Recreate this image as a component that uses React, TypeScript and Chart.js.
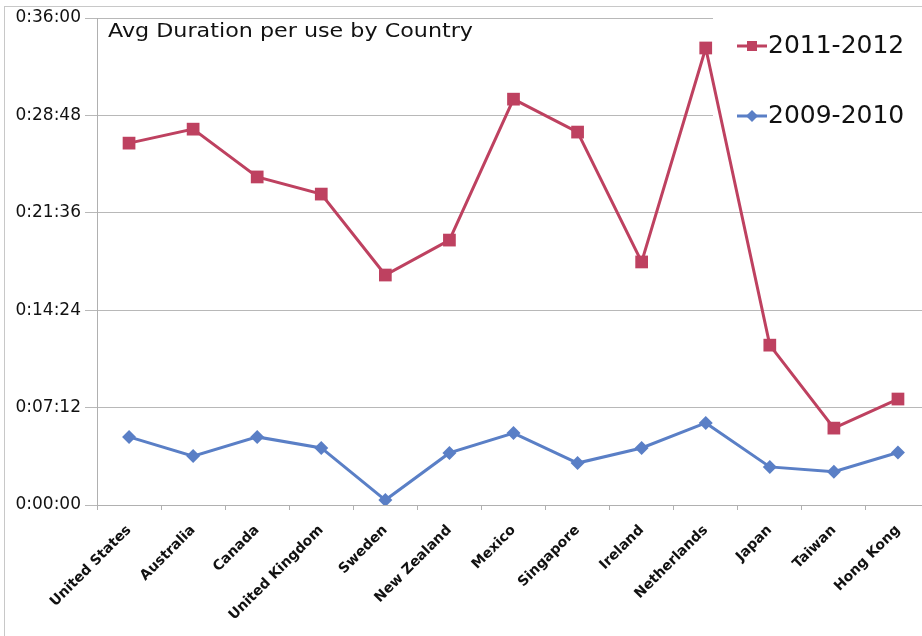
import React, { useEffect, useRef } from "react";
import { Chart, registerables } from "chart.js";

Chart.register(...registerables);

const categories = [
  "United States", "Australia", "Canada", "United Kingdom", "Sweden", "New Zealand",
  "Mexico", "Singapore", "Ireland", "Netherlands", "Japan", "Taiwan", "Hong Kong",
];
// durations in seconds
const series2011_2012 = [1605, 1667, 1455, 1379, 1020, 1175, 1800, 1654, 1078, 2027, 709, 341, 470];
const series2009_2010 = [302, 217, 302, 253, 22, 231, 319, 186, 253, 364, 169, 148, 233];
const yMin = 0;
const yMax = 2160;
const yStep = 432;
const titleText = "Avg Duration per use by Country";
const seriesNames = ["2011-2012", "2009-2010"];

const RED = "#BE4160";
const BLUE = "#5A7FC6";
const FONT = "'DejaVu Sans', Verdana, sans-serif";

function fmt(v: number): string {
  const h = Math.floor(v / 3600);
  const m = Math.floor((v % 3600) / 60);
  const s = Math.round(v % 60);
  return `${h}:${String(m).padStart(2, "0")}:${String(s).padStart(2, "0")}`;
}

const decorPlugin = {
  id: "decor",
  beforeDatasetsDraw(chart: any) {
    const ctx = chart.ctx;
    ctx.save();
    ctx.fillStyle = "#ffffff";
    ctx.fillRect(713, 10, 260, 126);
    ctx.restore();
  },
  afterDraw(chart: any) {
    const ctx = chart.ctx;
    ctx.save();
    // outer border
    ctx.strokeStyle = "#c8c8c8";
    ctx.lineWidth = 1;
    ctx.strokeRect(4.5, 6.5, 1200, 1200);
    // title (slightly widened like the original)
    ctx.fillStyle = "#111111";
    ctx.font = `20px ${FONT}`;
    ctx.textAlign = "left";
    ctx.textBaseline = "middle";
    const w = ctx.measureText(titleText).width;
    const sx = 365 / w;
    ctx.save();
    ctx.translate(108, 32);
    ctx.scale(sx, 1);
    ctx.fillText(titleText, 0, 0);
    ctx.restore();
    // legend
    const items = [
      { name: seriesNames[0], color: RED, y: 46, style: "rect" },
      { name: seriesNames[1], color: BLUE, y: 116, style: "diamond" },
    ];
    for (const it of items) {
      ctx.strokeStyle = it.color;
      ctx.lineWidth = 3;
      ctx.beginPath();
      ctx.moveTo(737, it.y);
      ctx.lineTo(767, it.y);
      ctx.stroke();
      ctx.fillStyle = it.color;
      if (it.style === "rect") {
        ctx.fillRect(747, it.y - 5, 10, 10);
      } else {
        ctx.beginPath();
        ctx.moveTo(752, it.y - 6);
        ctx.lineTo(758, it.y);
        ctx.lineTo(752, it.y + 6);
        ctx.lineTo(746, it.y);
        ctx.closePath();
        ctx.fill();
      }
      ctx.fillStyle = "#111111";
      ctx.font = `25px ${FONT}`;
      ctx.textAlign = "left";
      ctx.textBaseline = "middle";
      ctx.fillText(it.name, 768, it.y);
    }
    ctx.restore();
  },
};

export default function App() {
  const ref = useRef<HTMLCanvasElement | null>(null);
  useEffect(() => {
    if (!ref.current) return;
    const chart = new Chart(ref.current, {
      type: "line",
      data: {
        labels: categories,
        datasets: [
          {
            label: seriesNames[1],
            data: series2009_2010,
            borderColor: BLUE,
            backgroundColor: BLUE,
            borderWidth: 3,
            pointStyle: "rectRot",
            pointRadius: 7,
            pointBorderWidth: 0,
            tension: 0,
          },
          {
            label: seriesNames[0],
            data: series2011_2012,
            borderColor: RED,
            backgroundColor: RED,
            borderWidth: 3,
            pointStyle: "rect",
            pointRadius: 9,
            pointBorderWidth: 0,
            tension: 0,
          },
        ],
      },
      options: {
        responsive: false,
        animation: false,
        devicePixelRatio: 1,
        layout: { padding: { top: 18, right: 10, left: 0, bottom: 0 } },
        plugins: { legend: { display: false }, title: { display: false }, tooltip: { enabled: false } },
        scales: {
          x: {
            type: "category",
            offset: true,
            grid: { offset: true, display: true, drawOnChartArea: false, tickLength: 5, color: "#b0b0b0" },
            border: { display: true, color: "#b0b0b0" },
            ticks: {
              autoSkip: false,
              maxRotation: 45,
              minRotation: 45,
              color: "#111111",
              font: { family: FONT, size: 14, weight: "bold" },
              padding: 12,
            },
            afterFit(scale: any) {
              scale.height = 131;
            },
          },
          y: {
            min: yMin,
            max: yMax,
            grid: { color: "#b8b8b8", tickLength: 12, lineWidth: 1 },
            border: { display: true, color: "#b0b0b0" },
            ticks: {
              stepSize: yStep,
              color: "#111111",
              font: { family: FONT, size: 17 },
              padding: 4,
              callback: (v: any) => fmt(Number(v)),
            },
            afterFit(scale: any) {
              scale.width = 97;
            },
          },
        },
      },
      plugins: [decorPlugin],
    } as any);
    return () => chart.destroy();
  }, []);
  return (
    <div
      style={{
        position: "fixed",
        left: 0,
        top: 0,
        width: 922,
        height: 636,
        overflow: "hidden",
        background: "#ffffff",
      }}
    >
      <canvas ref={ref} width={940} height={636} style={{ display: "block" }} />
    </div>
  );
}
